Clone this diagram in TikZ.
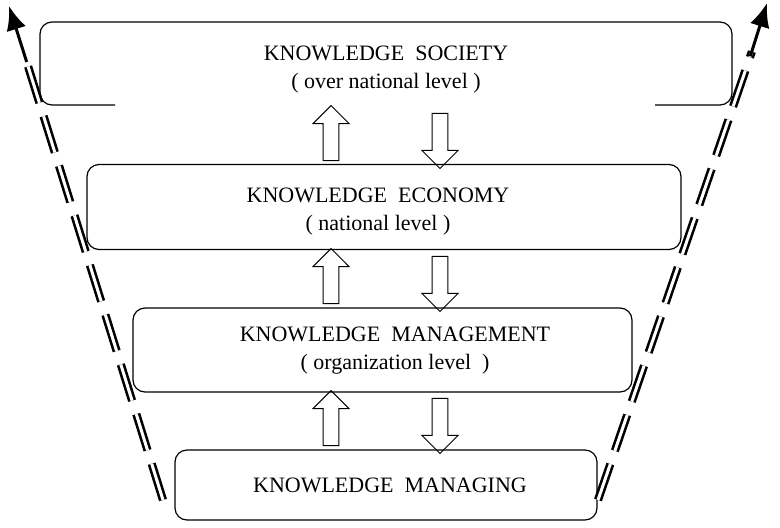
\documentclass[tikz,border=0pt]{standalone}
\usepackage{fontspec}
\setmainfont{Liberation Serif}
\usetikzlibrary{shapes.arrows,arrows.meta,calc}
\begin{document}
\begin{tikzpicture}[x=1pt,y=-1pt,
  lvl/.style={draw,line width=1.2pt,rounded corners=12pt},
  txt/.style={font=\fontsize{22}{28}\selectfont,align=center},
  blk/.style={single arrow,draw,line width=1pt,minimum width=36pt,single arrow head extend=7pt,
    minimum height=55pt,inner sep=5pt},
  side/.style={line width=2.6pt,double,double distance=3pt,dash pattern=on 38pt off 14pt}]
\useasboundingbox (0,0) rectangle (780,528);
% top box (open bottom)
\draw[lvl] (115,105) -- (40,105) -- (40,22) -- (732,22) -- (732,105) -- (655,105);
\node[txt] (soc) at (386,70) {KNOWLEDGE\ \ SOCIETY\\( over national level )};
\node[lvl,minimum width=594pt,minimum height=85pt] (eco) at (384,207) {};
\node[txt] at (378,212) {KNOWLEDGE\ \ ECONOMY\\( national level )};
\node[lvl,minimum width=499pt,minimum height=84pt] (man) at (382.5,350) {};
\node[txt] at (395,351) {KNOWLEDGE\ \ MANAGEMENT\\( organization level\ \ )};
\node[lvl,minimum width=422pt,minimum height=70pt] (mng) at (386,485) {};
\node[txt] at (390,485) {KNOWLEDGE\ \ MANAGING};
% block arrows
\foreach \y/\n in {137/a,280/b,422/c}{
  \node[blk,shape border rotate=90] (up\n) at (331,\y) {};
  \node[blk,shape border rotate=270] (dn\n) at (440,\y) {};
}
% side double dashed lines
\coordinate (l0) at (163,500); \coordinate (l1) at (18,34);
\coordinate (r0) at (598,500); \coordinate (r1) at (760,28);
\draw[side] (l0) -- ($(l0)!0.95!(l1)$);
\draw[side] (r0) -- ($(r0)!0.95!(r1)$);
\draw[-{Latex[length=24pt,width=20pt]},line width=3pt] ($(l0)!0.94!(l1)$) -- (9,6);
\draw[-{Latex[length=24pt,width=20pt]},line width=3pt] ($(r0)!0.94!(r1)$) -- (767,3);
\end{tikzpicture}
\end{document}
